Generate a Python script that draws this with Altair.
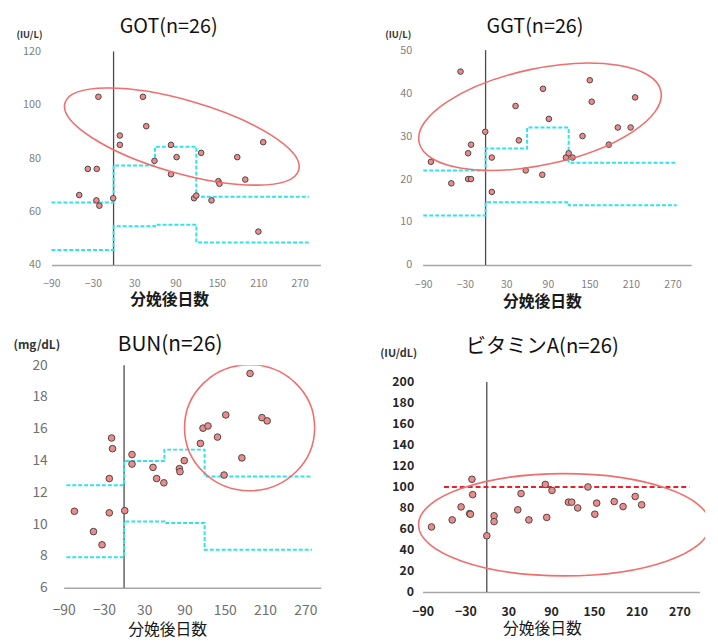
import altair as alt
import pandas as pd

FONT = "Noto Sans CJK JP"

# ---------------- data ----------------
x_ticks = [-90, -30, 30, 90, 150, 210, 270]

got_days = [-22, 42.6, 47.4, 9.1, 9.1, 83.3, 217, 127, 91.4, 179.4, 59.3, -37.3, -24.4,
            83.3, 191, 152, 153.6, -49.8, -0.5, 116.7, 120, -24.9, -20.6, 142, 210]
got_vals = [103, 103, 92, 88.5, 85, 85, 86, 82, 80.4, 80.4, 79, 76, 76,
            74, 72, 71.4, 70.4, 66.2, 65, 65, 66, 64.2, 62.2, 64.2, 52.5]
got_step_days = [-90, 0, 60, 120, 283]
got_upper = [63.4, 77.3, 84.3, 65.6, 65.6]
got_lower = [45.6, 54.5, 55.1, 48.4, 48.4]
got_yticks = [40, 60, 80, 100, 120]

ggt_days = [-79, -36.2, -49.5, -25.2, -21, -25.2, -21, -0.5, 9, 9, 43.3, 48.1, 58,
            82.9, 81.9, 91.4, 116, 120, 125.7, 140, 150.5, 153.3, 178, 191, 209.5, 216]
ggt_vals = [24, 45, 19, 26, 28, 20, 20, 31, 25, 17, 37, 29, 22,
            41, 21, 34, 25, 26, 25, 30, 43, 38, 28, 32, 32, 39]
ggt_step_days = [-90, 0, 60, 120, 276]
ggt_upper = [22, 27.1, 32, 23.8, 23.8]
ggt_lower = [11.5, 14.6, 14.6, 13.9, 13.9]
ggt_yticks = [0, 10, 20, 30, 40, 50]

bun_days = [-74, -45.6, -32.8, -18.6, -17.2, -22, -22, 1, 11.8, 11.8, 43.1, 48.5, 59.3,
            82.4, 83.3, 89.7, 113.7, 117.6, 125, 139.2, 149, 151.5, 175.5, 187.7, 205.4, 213.2]
bun_vals = [10.81, 9.53, 8.70, 15.42, 14.75, 12.87, 10.71, 10.85, 14.38, 13.78, 13.57, 12.87, 12.6,
            13.49, 13.3, 14.0, 15.08, 16.04, 16.18, 15.48, 13.09, 16.87, 14.17, 19.48, 16.7, 16.5]
bun_step_days = [-86, 0, 60, 120, 280]
bun_upper = [12.45, 13.97, 14.69, 13.0, 13.0]
bun_lower = [7.91, 10.17, 10.07, 8.39, 8.39]
bun_yticks = [6, 8, 10, 12, 14, 16, 18, 20]

vita_days = [-77.5, -48.5, -36, -24, -23, -20.8, -19.8, 0, 10.2, 10.2, 43.4, 48, 59,
             82, 84, 91.4, 114.4, 119, 127.4, 141.7, 151.4, 154, 178.6, 191, 208, 217]
vita_vals = [61.9, 68.6, 81, 74.6, 74, 107.3, 92.7, 53.5, 72.5, 67, 78.2, 93.7, 68.6,
             102.4, 71, 96.7, 85.5, 85.5, 80, 100, 74, 84.6, 86.1, 81.3, 90.9, 83]
vita_yticks = [0, 20, 40, 60, 80, 100, 120, 140, 160, 180, 200]
vita_ref_value = 100
vita_ref_days = [-60, 284]

# ellipse centres (day, value)
got_ell = (99, 88.1)
ggt_ell = (78.6, 34.5)
bun_ell = (187, 16.07)
vita_ell = (108.5, 64)

CYAN = "#2fe3ee"
PT_FILL = "#ef8a8a"
PT_STROKE = "#474747"
ELL = "#f06e6e"


def ellipse_path(r):
    k = 0.5523
    return (f"M -1 0 C -1 {-k*r:.4f} {-k:.4f} {-r:.4f} 0 {-r:.4f} "
            f"C {k:.4f} {-r:.4f} 1 {-k*r:.4f} 1 0 "
            f"C 1 {k*r:.4f} {k:.4f} {r:.4f} 0 {r:.4f} "
            f"C {-k:.4f} {r:.4f} -1 {k*r:.4f} -1 0 Z")


def panel(p):
    xs = alt.Scale(domain=p["xdom"], range=p["xrng"], nice=False, zero=False)
    ys = alt.Scale(domain=p["ydom"], range=p["yrng"], nice=False, zero=False)
    xaxis = alt.Axis(values=x_ticks, grid=False, ticks=False, tickSize=0,
                     domainColor="#a6a6a6", domainWidth=1.5,
                     labelFont=FONT, labelFontSize=p["xlfs"], labelColor=p["lc"],
                     labelFontWeight=p["lw"], labelPadding=p["xlpad"],
                     labelBaseline="middle", labelFlush=False, labelOverlap=False,
                     title="分娩後日数", titleFont=FONT, titleFontSize=16,
                     titleFontWeight=p["xtw"], titleColor="#1a1a1a",
                     titleX=p["xtx"], titleY=p["xty"], titleAlign="center",
                     titleBaseline="middle")
    yaxis = alt.Axis(values=p["yticks"], grid=False, ticks=False, tickSize=0, domain=False,
                     labelFont=FONT, labelFontSize=p["ylfs"], labelColor=p["lc"],
                     labelFontWeight=p["lw"], labelPadding=p["ylpad"],
                     title=p["unit"], titleAngle=0, titleX=p["ux"], titleY=p["uy"],
                     titleAlign="left", titleBaseline="middle", titleFont=FONT,
                     titleFontSize=p["ufs"], titleFontWeight="bold", titleColor="#333333")
    X = lambda f="day": alt.X(f"{f}:Q", scale=xs, axis=xaxis)
    Y = lambda f="val": alt.Y(f"{f}:Q", scale=ys, axis=yaxis)

    vline = alt.Chart(pd.DataFrame({"day": [0], "val": [p["ydom0"]], "v2": [p["ytop"]]})).mark_rule(
        color="#4a4a4a", strokeWidth=1.3).encode(x=X(), y=Y(), y2="v2:Q")

    layers = [vline]
    if p.get("steps"):
        sd, up, lo = p["steps"]
        sdf = pd.DataFrame({"day": sd + sd, "val": up + lo,
                            "band": ["upper"] * len(sd) + ["lower"] * len(sd)})
        layers.append(alt.Chart(sdf).mark_line(interpolate="step-after", color=CYAN,
                                               strokeWidth=2, strokeDash=[4, 2]).encode(
            x=X(), y=Y(), detail="band:N"))
    if p.get("ref"):
        rv, rd = p["ref"]
        layers.append(alt.Chart(pd.DataFrame({"day": [rd[0]], "d2": [rd[1]], "val": [rv]})).mark_rule(
            color="#e8202a", strokeWidth=2, strokeDash=[5, 3]).encode(x=X(), x2="d2:Q", y=Y()))

    pts = pd.DataFrame({"day": p["days"], "val": p["vals"]})
    layers.append(alt.Chart(pts).mark_point(filled=True, shape="circle", size=p["psize"],
                                            fill=PT_FILL, stroke=PT_STROKE, strokeWidth=1,
                                            opacity=1).encode(x=X(), y=Y()))
    cx, cy = p["ell"]
    a, b, ang = p["ellab"]
    layers.append(alt.Chart(pd.DataFrame({"day": [cx], "val": [cy]})).mark_point(
        shape=ellipse_path(b / a), size=(2 * a) ** 2, angle=ang, filled=False,
        stroke=ELL, strokeWidth=1.6, opacity=1, clip=True).encode(x=X(), y=Y()))

    return alt.layer(*layers).properties(
        width=p["w"], height=p["h"],
        title=alt.TitleParams(text=p["title"], anchor="start", frame="group", dx=p["tdx"],
                              dy=p["tdy"], offset=0, fontSize=p["tfs"], font=FONT,
                              fontWeight="normal", color="#111111", baseline="alphabetic"))


got = panel(dict(title="GOT(n=26)", tdx=69, tdy=23.3, tfs=20, unit="(IU/L)", ux=-36, uy=-16, ufs=9.5,
                 days=got_days, vals=got_vals, steps=(got_step_days, got_upper, got_lower),
                 ell=got_ell, ellab=(123, 37, 16),
                 xdom=[-90, 300], xrng=[0, 272], ydom=[40, 120], yrng=[217.3, 1.3],
                 ydom0=40, ytop=120, yticks=got_yticks, w=272, h=217.3,
                 xlfs=10.5, ylfs=11, lc="#7f7f7f", lw="normal", xlpad=19, ylpad=11,
                 xtx=119, xty=35, xtw="bold", psize=32))
ggt = panel(dict(title="GGT(n=26)", tdx=70, tdy=23.6, tfs=20, unit="(IU/L)", ux=-33, uy=-16, ufs=9.5,
                 days=ggt_days, vals=ggt_vals, steps=(ggt_step_days, ggt_upper, ggt_lower),
                 ell=ggt_ell, ellab=(125, 48.7, 348),
                 xdom=[-91, 297], xrng=[5.3, 277], ydom=[0, 50], yrng=[217.3, 0],
                 ydom0=0, ytop=50, yticks=ggt_yticks, w=291, h=217.3,
                 xlfs=10.5, ylfs=11, lc="#7f7f7f", lw="normal", xlpad=20, ylpad=5.7,
                 xtx=126, xty=37, xtw="bold", psize=32))
bun = panel(dict(title="BUN(n=26)", tdx=67, tdy=33.3, tfs=21, unit="(mg/dL)", ux=-39, uy=-21, ufs=12,
                 days=bun_days, vals=bun_vals, steps=(bun_step_days, bun_upper, bun_lower),
                 ell=bun_ell, ellab=(65.8, 63.8, 0),
                 xdom=[-90, 293], xrng=[12.3, 272.3], ydom=[6, 20], yrng=[225, 0],
                 ydom0=6, ytop=20, yticks=bun_yticks, w=272, h=225,
                 xlfs=14, ylfs=14, lc="#6f6f6f", lw="normal", xlpad=22.6, ylpad=4.3,
                 xtx=117, xty=42.6, xtw="normal", psize=45))
vita = panel(dict(title="ビタミンA(n=26)", tdx=49, tdy=26.6, tfs=20.5, unit="(IU/dL)", ux=-38, uy=-12, ufs=11,
                  days=vita_days, vals=vita_vals, steps=None, ref=(vita_ref_value, vita_ref_days),
                  ell=vita_ell, ellab=(147.4, 51.7, 0),
                  xdom=[-90, 298], xrng=[5.3, 285.3], ydom=[0, 207.8], yrng=[229.3, 8.6],
                  ydom0=0, ytop=200, yticks=vita_yticks, w=291, h=229.3,
                  xlfs=12.5, ylfs=12.5, lc="#262626", lw="bold", xlpad=20, ylpad=3.7,
                  xtx=126, xty=36.7, xtw="normal", psize=45))

chart = alt.concat(got, ggt, bun, vita, columns=2,
                   spacing={"row": 100.7, "column": 98}, bounds="flush").properties(
    padding={"left": 5, "top": 5, "right": 5, "bottom": 0},
    background="white",
).configure_view(stroke=None)

chart.save("out.html", embed_options={"renderer": "svg", "actions": False})
